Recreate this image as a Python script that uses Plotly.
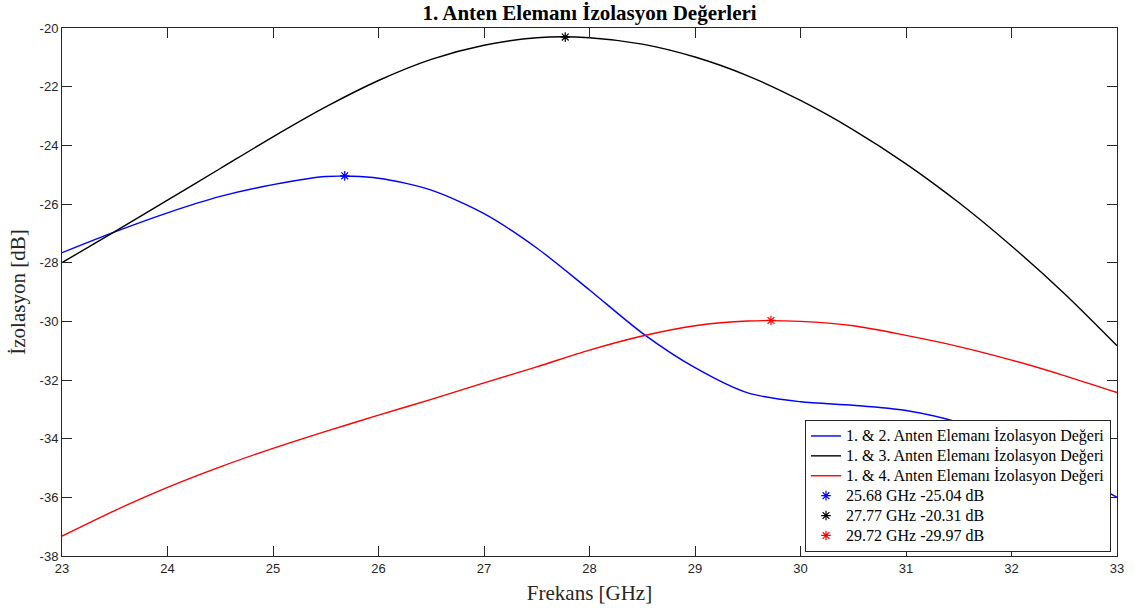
import plotly.graph_objects as go

# ---- data ----
freq = [23.0, 23.5, 24.0, 24.5, 25.0, 25.5, 26.0, 26.5, 27.0, 27.5, 28.0,
        28.5, 29.0, 29.5, 30.0, 30.5, 31.0, 31.5, 32.0, 32.5, 33.0]

s12 = [-27.66, -26.95, -26.30, -25.74, -25.34, -25.06, -25.12, -25.53, -26.33, -27.50, -28.93,
       -30.40, -31.58, -32.44, -32.74, -32.86, -33.04, -33.45, -34.15, -35.02, -36.00]

s13 = [-28.00, -26.94, -25.87, -24.79, -23.71, -22.69, -21.79, -21.07, -20.59, -20.33, -20.33,
       -20.55, -20.99, -21.63, -22.47, -23.47, -24.63, -25.95, -27.43, -29.05, -30.83]

s14 = [-37.32, -36.45, -35.66, -34.96, -34.33, -33.75, -33.20, -32.66, -32.10, -31.55, -30.98,
       -30.50, -30.15, -29.99, -30.00, -30.15, -30.48, -30.86, -31.32, -31.85, -32.43]

peak_freq = [25.68, 27.77, 29.72]
peak_val = [-25.04, -20.31, -29.97]

line_names = ["1. & 2. Anten Elemanı İzolasyon Değeri",
              "1. & 3. Anten Elemanı İzolasyon Değeri",
              "1. & 4. Anten Elemanı İzolasyon Değeri"]
peak_names = ["25.68 GHz -25.04 dB", "27.77 GHz -20.31 dB", "29.72 GHz -29.97 dB"]
colors = ["#0000FF", "#000000", "#FF0000"]

x_ticks = list(range(23, 34))
y_ticks = list(range(-38, -19, 2))
y_ticktext = [str(v) for v in y_ticks]  # ASCII hyphen minus, as in the reference

SERIF = "Liberation Serif, Times New Roman, serif"
SANS = "Liberation Sans, Arial, sans-serif"


def leg(label):
    return '<span style="font-size:16px">' + label + '</span>'


fig = go.Figure()
for name, vals, col in zip(line_names, [s12, s13, s14], colors):
    fig.add_trace(go.Scatter(x=freq, y=vals, mode="lines", name=leg(name),
                             line=dict(color=col, width=1.4, shape="spline", smoothing=0.8)))
for name, fx, fy, col in zip(peak_names, peak_freq, peak_val, colors):
    fig.add_trace(go.Scatter(x=[fx], y=[fy], mode="markers", name=leg(name),
                             marker=dict(symbol="asterisk-open", size=8,
                                         line=dict(color=col, width=1.2), color=col)))

axis_common = dict(showline=True, linecolor="#262626", linewidth=1, mirror="allticks",
                   ticks="inside", ticklen=10, tickcolor="#262626", tickwidth=1,
                   showgrid=False, zeroline=False,
                   tickfont=dict(family=SANS, size=13, color="#262626"))

fig.update_layout(
    width=1135, height=615,
    margin=dict(l=62, r=18, t=28, b=59),
    paper_bgcolor="white", plot_bgcolor="white",
    title=dict(text="<b>1. Anten Elemanı İzolasyon Değerleri</b>",
               font=dict(family=SERIF, size=21, color="#000000"),
               x=0.5, xanchor="center", xref="paper",
               y=1 - 13 / 615, yanchor="middle", yref="container"),
    xaxis=dict(range=[23, 33], tickvals=x_ticks,
               title=dict(text="Frekans [GHz]", standoff=10,
                          font=dict(family=SERIF, size=21, color="#262626")),
               **axis_common),
    yaxis=dict(range=[-38, -20], tickvals=y_ticks, ticktext=y_ticktext,
               title=dict(text="İzolasyon [dB]", standoff=8,
                          font=dict(family=SERIF, size=21, color="#262626")),
               **axis_common),
    legend=dict(x=(1111 - 62) / 1055, y=(556 - 552) / 528, xanchor="right", yanchor="bottom",
                bgcolor="white", bordercolor="#262626", borderwidth=1,
                font=dict(family=SERIF, size=13, color="#000000"),
                tracegroupgap=0, itemwidth=30),
    showlegend=True,
)

fig.write_html("out.html", config={"displayModeBar": False},
               post_script="document.body.style.margin='0';")
